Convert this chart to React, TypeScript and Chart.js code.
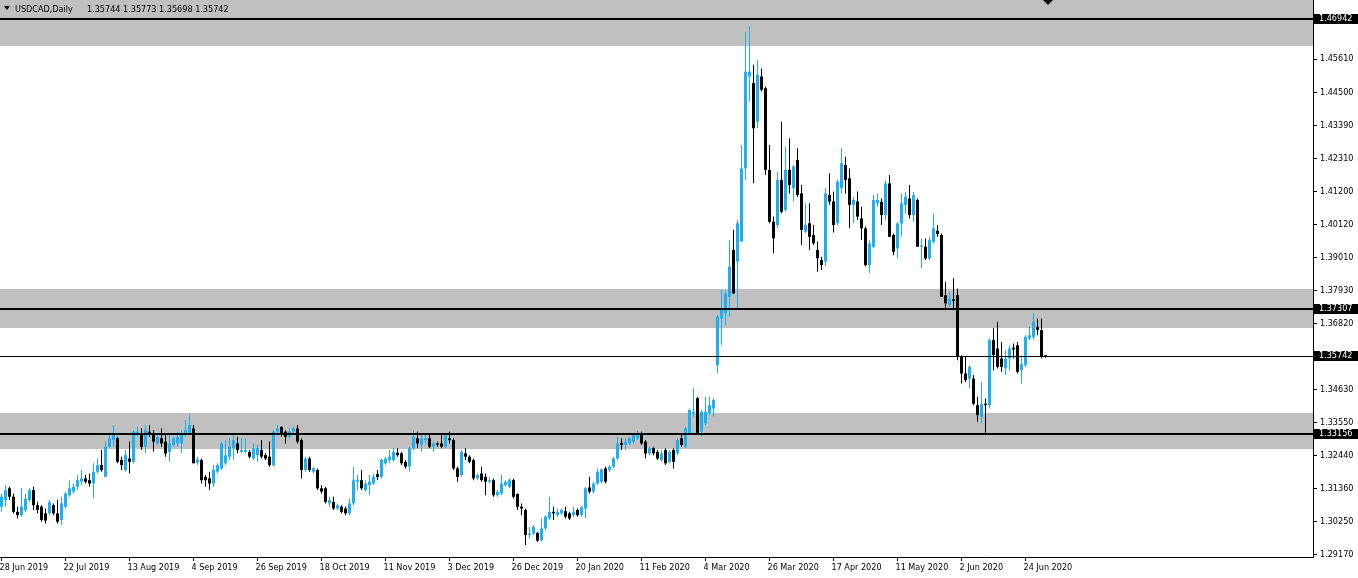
import React, { useEffect, useRef } from 'react';
import { Chart, registerables } from 'chart.js';

Chart.register(...registerables);

// ---------- data ----------
const symbolTitle = 'USDCAD,Daily';

const opens = [
  1.3075,1.3097,1.3136,1.3108,1.3058,1.3047,1.3064,1.3097,1.3130,1.3080,
  1.3075,1.3053,1.3053,1.3080,1.3053,1.3031,1.3075,1.3113,1.3125,1.3141,
  1.3158,1.3169,1.3163,1.3152,1.3191,1.3213,1.3174,1.3274,1.3296,1.3302,
  1.3230,1.3197,1.3235,1.3224,1.3313,1.3318,1.3274,1.3324,1.3318,1.3285,
  1.3302,1.3291,1.3257,1.3280,1.3285,1.3285,1.3313,1.3318,1.3335,1.3221,
  1.3230,1.3174,1.3169,1.3152,1.3191,1.3202,1.3219,1.3241,1.3269,1.3285,
  1.3257,1.3257,1.3257,1.3235,1.3246,1.3263,1.3246,1.3241,1.3213,1.3324,
  1.3340,1.3324,1.3307,1.3324,1.3335,1.3296,1.3197,1.3235,1.3191,1.3197,
  1.3136,1.3136,1.3086,1.3091,1.3069,1.3075,1.3069,1.3053,1.3086,1.3158,
  1.3163,1.3130,1.3147,1.3152,1.3183,1.3174,1.3219,1.3230,1.3230,1.3254,
  1.3252,1.3224,1.3208,1.3269,1.3302,1.3280,1.3296,1.3302,1.3274,1.3285,
  1.3285,1.3274,1.3302,1.3296,1.3202,1.3180,1.3252,1.3241,1.3230,1.3169,
  1.3185,1.3174,1.3158,1.3163,1.3113,1.3119,1.3147,1.3141,1.3163,1.3117,
  1.3075,1.3064,1.2981,1.2986,1.2988,1.2964,1.3003,1.3036,1.3058,1.3047,
  1.3053,1.3060,1.3053,1.3047,1.3064,1.3047,1.3069,1.3139,1.3125,1.3152,
  1.3158,1.3202,1.3197,1.3208,1.3235,1.3287,1.3280,1.3285,1.3291,1.3302,
  1.3318,1.3291,1.3252,1.3269,1.3257,1.3230,1.3263,1.3224,1.3263,1.3252,
  1.3302,1.3274,1.3318,1.3385,1.3435,1.3324,1.3352,1.3385,1.3401,1.3545,
  1.3700,1.3717,1.3772,1.3927,1.3888,1.3955,1.4198,1.4503,1.4481,1.4353,
  1.4503,1.4464,1.4193,1.4021,1.4010,1.4160,1.4060,1.4193,1.4132,1.4226,
  1.4115,1.3988,1.4016,1.3977,1.3927,1.3894,1.3888,1.4110,1.4088,1.4016,
  1.4132,1.4209,1.4165,1.4077,1.4088,1.4032,1.3999,1.3877,1.3938,1.4082,
  1.4087,1.4043,1.4148,1.3977,1.3932,1.4015,1.4076,1.4098,1.4043,1.4093,
  1.3938,1.3938,1.3899,1.3954,1.3991,1.3977,1.3777,1.3744,1.3763,1.3777,
  1.3572,1.3517,1.3500,1.3500,1.3412,1.3373,1.3417,1.3412,1.3628,1.3600,
  1.3567,1.3534,1.3567,1.3603,1.3611,1.3528,1.3545,1.3633,1.3639,1.3672,
  1.3661,1.35744,
];

const highs = [
  1.3119,1.3147,1.3141,1.3119,1.3075,1.3136,1.3119,1.3136,1.3141,1.3091,
  1.3080,1.3069,1.3097,1.3086,1.3097,1.3108,1.3125,1.3163,1.3152,1.3180,
  1.3197,1.3180,1.3185,1.3219,1.3235,1.3263,1.3291,1.3324,1.3346,1.3307,
  1.3241,1.3263,1.3291,1.3329,1.3340,1.3335,1.3346,1.3346,1.3329,1.3313,
  1.3335,1.3318,1.3313,1.3307,1.3324,1.3329,1.3363,1.3385,1.3346,1.3241,
  1.3235,1.3180,1.3191,1.3213,1.3219,1.3291,1.3296,1.3302,1.3313,1.3307,
  1.3302,1.3302,1.3263,1.3285,1.3280,1.3296,1.3252,1.3291,1.3329,1.3346,
  1.3342,1.3329,1.3335,1.3340,1.3346,1.3302,1.3241,1.3241,1.3208,1.3202,
  1.3147,1.3141,1.3108,1.3108,1.3086,1.3080,1.3075,1.3102,1.3208,1.3180,
  1.3197,1.3163,1.3180,1.3185,1.3197,1.3235,1.3241,1.3263,1.3269,1.3269,
  1.3257,1.3230,1.3274,1.3329,1.3324,1.3318,1.3318,1.3318,1.3291,1.3291,
  1.3313,1.3318,1.3324,1.3302,1.3208,1.3263,1.3269,1.3246,1.3235,1.3185,
  1.3208,1.3185,1.3174,1.3169,1.3130,1.3180,1.3163,1.3169,1.3169,1.3119,
  1.3086,1.3069,1.3008,1.3014,1.2992,1.3036,1.3047,1.3108,1.3075,1.3069,
  1.3069,1.3075,1.3058,1.3075,1.3069,1.3077,1.3141,1.3174,1.3158,1.3202,
  1.3202,1.3208,1.3213,1.3241,1.3307,1.3302,1.3302,1.3307,1.3318,1.3327,
  1.3324,1.3296,1.3274,1.3274,1.3263,1.3263,1.3269,1.3263,1.3269,1.3302,
  1.3313,1.3340,1.3401,1.3468,1.3440,1.3396,1.3440,1.3440,1.3435,1.3711,
  1.3794,1.3794,1.3960,1.3994,1.4027,1.4276,1.4652,1.4669,1.4542,1.4558,
  1.4530,1.4470,1.4276,1.4038,1.4187,1.4353,1.4270,1.4298,1.4209,1.4265,
  1.4143,1.4082,1.4082,1.4010,1.3955,1.3905,1.4132,1.4182,1.4121,1.4160,
  1.4265,1.4237,1.4198,1.4104,1.4121,1.4071,1.4005,1.3960,1.4110,1.4115,
  1.4098,1.4159,1.4176,1.3982,1.4021,1.4115,1.4120,1.4143,1.4120,1.4098,
  1.3965,1.3965,1.3971,1.4048,1.4010,1.3982,1.3822,1.3788,1.3833,1.3799,
  1.3578,1.3572,1.3545,1.3512,1.3440,1.3489,1.3434,1.3633,1.3667,1.3689,
  1.3622,1.3595,1.3611,1.3617,1.3622,1.3572,1.3644,1.3672,1.3716,1.3700,
  1.3700,1.35773,
];

const lows = [
  1.3058,1.3075,1.3097,1.3053,1.3036,1.3042,1.3058,1.3091,1.3064,1.3053,
  1.3025,1.3019,1.3047,1.3047,1.3019,1.3014,1.3069,1.3108,1.3119,1.3130,
  1.3147,1.3152,1.3141,1.3102,1.3185,1.3191,1.3174,1.3269,1.3274,1.3219,
  1.3197,1.3191,1.3185,1.3219,1.3307,1.3263,1.3252,1.3307,1.3257,1.3280,
  1.3274,1.3241,1.3224,1.3274,1.3274,1.3252,1.3307,1.3313,1.3219,1.3213,
  1.3152,1.3141,1.3130,1.3141,1.3185,1.3197,1.3213,1.3230,1.3230,1.3252,
  1.3252,1.3252,1.3235,1.3230,1.3224,1.3235,1.3230,1.3208,1.3208,1.3318,
  1.3307,1.3285,1.3302,1.3318,1.3285,1.3169,1.3191,1.3191,1.3185,1.3130,
  1.3119,1.3086,1.3075,1.3064,1.3064,1.3053,1.3047,1.3047,1.3080,1.3130,
  1.3130,1.3125,1.3113,1.3147,1.3163,1.3169,1.3213,1.3219,1.3224,1.3241,
  1.3213,1.3202,1.3191,1.3263,1.3269,1.3257,1.3285,1.3269,1.3257,1.3274,
  1.3269,1.3269,1.3285,1.3197,1.3158,1.3174,1.3230,1.3219,1.3163,1.3163,
  1.3158,1.3113,1.3152,1.3108,1.3108,1.3113,1.3141,1.3136,1.3102,1.3064,
  1.3047,1.2948,1.2970,1.2981,1.2959,1.2959,1.2997,1.3031,1.3031,1.3042,
  1.3047,1.3036,1.3031,1.3042,1.3042,1.3042,1.3036,1.3119,1.3119,1.3147,
  1.3152,1.3152,1.3191,1.3202,1.3230,1.3263,1.3263,1.3280,1.3285,1.3296,
  1.3280,1.3235,1.3246,1.3246,1.3230,1.3224,1.3213,1.3219,1.3202,1.3246,
  1.3274,1.3269,1.3313,1.3374,1.3313,1.3307,1.3346,1.3379,1.3374,1.3518,
  1.3612,1.3678,1.3706,1.3783,1.3728,1.3955,1.4160,1.4420,1.4149,1.4331,
  1.4453,1.4176,1.4016,1.3916,1.3999,1.4049,1.4054,1.4115,1.4088,1.4104,
  1.3944,1.3983,1.3927,1.3944,1.3855,1.3861,1.3872,1.4077,1.3985,1.4010,
  1.4115,1.4115,1.3999,1.4016,1.4027,1.3960,1.3872,1.3850,1.3933,1.4071,
  1.4010,1.4026,1.3971,1.3910,1.3899,1.3971,1.4048,1.4032,1.4021,1.3938,
  1.3866,1.3894,1.3894,1.3949,1.3971,1.3772,1.3727,1.3739,1.3727,1.3561,
  1.3484,1.3489,1.3467,1.3412,1.3357,1.3351,1.3318,1.3401,1.3528,1.3534,
  1.3523,1.3512,1.3528,1.3567,1.3517,1.3484,1.3539,1.3628,1.3628,1.3644,
  1.3567,1.35698,
];

const closes = [
  1.3108,1.3130,1.3108,1.3058,1.3047,1.3075,1.3102,1.3130,1.3080,1.3064,
  1.3031,1.3029,1.3091,1.3053,1.3025,1.3086,1.3119,1.3136,1.3141,1.3163,
  1.3169,1.3158,1.3152,1.3191,1.3213,1.3197,1.3274,1.3302,1.3318,1.3224,
  1.3213,1.3246,1.3224,1.3324,1.3324,1.3274,1.3329,1.3313,1.3291,1.3307,
  1.3285,1.3252,1.3285,1.3302,1.3307,1.3318,1.3329,1.3346,1.3219,1.3232,
  1.3163,1.3163,1.3152,1.3197,1.3213,1.3285,1.3246,1.3274,1.3296,1.3263,
  1.3263,1.3263,1.3241,1.3269,1.3269,1.3241,1.3235,1.3213,1.3324,1.3335,
  1.3313,1.3307,1.3324,1.3335,1.3291,1.3197,1.3235,1.3197,1.3202,1.3136,
  1.3125,1.3091,1.3097,1.3069,1.3080,1.3058,1.3053,1.3086,1.3163,1.3165,
  1.3136,1.3152,1.3158,1.3174,1.3174,1.3230,1.3235,1.3241,1.3257,1.3246,
  1.3219,1.3208,1.3269,1.3307,1.3285,1.3302,1.3302,1.3274,1.3285,1.3280,
  1.3274,1.3313,1.3296,1.3202,1.3174,1.3257,1.3241,1.3224,1.3169,1.3180,
  1.3163,1.3158,1.3163,1.3113,1.3125,1.3152,1.3158,1.3165,1.3108,1.3075,
  1.3069,1.2981,1.2986,1.3008,1.2962,1.3003,1.3042,1.3058,1.3053,1.3058,
  1.3064,1.3042,1.3036,1.3058,1.3047,1.3073,1.3136,1.3125,1.3152,1.3191,
  1.3199,1.3158,1.3208,1.3235,1.3285,1.3280,1.3291,1.3302,1.3313,1.3318,
  1.3285,1.3252,1.3269,1.3252,1.3235,1.3252,1.3219,1.3257,1.3224,1.3296,
  1.3280,1.3335,1.3396,1.3390,1.3318,1.3390,1.3390,1.3412,1.3429,1.3706,
  1.3728,1.3783,1.3872,1.3783,1.4016,1.4198,1.4519,1.4519,1.4331,1.4508,
  1.4459,1.4193,1.4021,1.3966,1.4160,1.4054,1.4193,1.4143,1.4204,1.4110,
  1.3994,1.4010,1.3971,1.3949,1.3900,1.3877,1.4115,1.4088,1.4010,1.4154,
  1.4215,1.4160,1.4077,1.4093,1.4038,1.3999,1.3877,1.3949,1.4093,1.4093,
  1.4043,1.4148,1.3971,1.3921,1.4015,1.4082,1.4104,1.4043,1.4109,1.3938,
  1.3943,1.3899,1.3960,1.3999,1.3980,1.3772,1.3750,1.3766,1.3758,1.3572,
  1.3517,1.3495,1.3539,1.3417,1.3379,1.3417,1.3412,1.3628,1.3578,1.3539,
  1.3539,1.3567,1.3600,1.3597,1.3523,1.3548,1.3639,1.3644,1.3689,1.3661,
  1.3572,1.35742,
];

const dateLabels = [
  '28 Jun 2019', '22 Jul 2019', '13 Aug 2019', '4 Sep 2019', '26 Sep 2019',
  '18 Oct 2019', '11 Nov 2019', '3 Dec 2019', '26 Dec 2019', '20 Jan 2020',
  '11 Feb 2020', '4 Mar 2020', '26 Mar 2020', '17 Apr 2020', '11 May 2020',
  '2 Jun 2020', '24 Jun 2020',
];
const barsPerLabel = 16;

const priceTicks = [
  1.4689, 1.4561, 1.4450, 1.4339, 1.4231, 1.4120, 1.4012, 1.3901,
  1.3793, 1.3682, 1.3463, 1.3355, 1.3244, 1.3136, 1.3025, 1.2917,
];

// support / resistance zones [low, high]
const zoneLows = [1.4604, 1.36676, 1.32663];
const zoneHighs = [1.4800, 1.37975, 1.33858];

// horizontal levels
const levelPrices = [1.46942, 1.37307, 1.33156];
const bidPrice = 1.35742;

// ---------- styles ----------
const BULL = 'rgb(28,176,240)';
const BEAR = '#000000';
const ZONE = '#C0C0C0';
const FONT_FAMILY = "'DejaVu Sans Condensed', 'Liberation Sans', Arial, sans-serif";
const Y_MIN = 1.2908;
const Y_MAX = 1.4757;
const X_MIN = -0.375;
const X_MAX = 327.875;

const n = Math.min(opens.length, highs.length, lows.length, closes.length);
const idx = Array.from({ length: n }, (_, i) => i);
const colors = idx.map((i) => (closes[i] >= opens[i] ? BULL : BEAR));

const overlayPlugin = {
  id: 'mt4Overlay',
  beforeDatasetsDraw(chart: any) {
    const { ctx, chartArea: a, scales } = chart;
    const y = scales.y;
    ctx.save();
    ctx.beginPath();
    ctx.rect(a.left, a.top, a.right - a.left, a.bottom - a.top);
    ctx.clip();
    ctx.fillStyle = ZONE;
    for (let k = 0; k < zoneLows.length; k++) {
      const y1 = Math.round(y.getPixelForValue(zoneHighs[k]));
      const y2 = Math.round(y.getPixelForValue(zoneLows[k]));
      ctx.fillRect(a.left, y1, a.right - a.left, y2 - y1);
    }
    ctx.restore();
  },
  afterDatasetsDraw(chart: any) {
    const { ctx, chartArea: a, scales } = chart;
    const y = scales.y;
    ctx.save();
    ctx.fillStyle = '#000';
    for (const p of levelPrices) {
      const yy = Math.round(y.getPixelForValue(p));
      ctx.fillRect(a.left, yy - 1, a.right - a.left, 2);
    }
    const yb = Math.round(y.getPixelForValue(bidPrice) - 0.5);
    ctx.fillRect(a.left, yb, a.right - a.left, 1);
    ctx.restore();
  },
  afterDraw(chart: any) {
    const { ctx, chartArea: a, scales } = chart;
    const y = scales.y;
    ctx.save();
    // price boxes on the right axis
    ctx.font = `9px ${FONT_FAMILY}`;
    ctx.textBaseline = 'middle';
    ctx.textAlign = 'left';
    for (const p of [...levelPrices, bidPrice]) {
      const yy = Math.round(y.getPixelForValue(p));
      ctx.fillStyle = '#000';
      ctx.fillRect(a.right + 1, yy - 5, chart.width - a.right - 1, 10);
      ctx.fillStyle = '#fff';
      ctx.fillText(p.toFixed(5), a.right + 6, yy);
    }
    // title
    ctx.fillStyle = '#000';
    ctx.beginPath();
    ctx.moveTo(4, 6);
    ctx.lineTo(10, 6);
    ctx.lineTo(7, 10);
    ctx.closePath();
    ctx.fill();
    ctx.font = `9px ${FONT_FAMILY}`;
    ctx.textBaseline = 'alphabetic';
    ctx.fillText(symbolTitle, 15, 11.5);
    const last = n - 1;
    const ohlc = [opens[last], highs[last], lows[last], closes[last]].map((v) => v.toFixed(5)).join(' ');
    ctx.fillText(ohlc, 87, 11.5);
    // chart shift marker
    ctx.beginPath();
    ctx.moveTo(1043, 0);
    ctx.lineTo(1053, 0);
    ctx.lineTo(1048, 5);
    ctx.closePath();
    ctx.fill();
    ctx.restore();
  },
};

export default function App() {
  const canvasRef = useRef<HTMLCanvasElement>(null);

  useEffect(() => {
    document.body.style.margin = '0';
    const canvas = canvasRef.current;
    if (!canvas) return;
    const font = { family: FONT_FAMILY, size: 9 };
    const chart = new Chart(canvas, {
      type: 'bar',
      data: {
        datasets: [
          {
            label: 'body',
            data: idx.map((i) => ({ x: i, y: [opens[i], closes[i]] })) as any,
            backgroundColor: colors,
            barThickness: 3,
            minBarLength: 1,
            grouped: false,
            borderWidth: 0,
            inflateAmount: 0,
          } as any,
          {
            label: 'wick',
            data: idx.map((i) => ({ x: i, y: [lows[i], highs[i]] })) as any,
            backgroundColor: colors,
            barThickness: 1,
            grouped: false,
            borderWidth: 0,
            inflateAmount: 0,
          } as any,
        ],
      },
      options: {
        animation: false,
        responsive: false,
        devicePixelRatio: 1,
        events: [],
        layout: { padding: 0, autoPadding: false } as any,
        plugins: {
          legend: { display: false },
          tooltip: { enabled: false },
          title: { display: false },
        },
        scales: {
          x: {
            type: 'linear',
            position: 'bottom',
            min: X_MIN,
            max: X_MAX,
            offset: false,
            afterBuildTicks: (s: any) => {
              s.ticks = dateLabels.map((_, k) => ({ value: k * barsPerLabel }));
            },
            afterFit: (s: any) => {
              s.height = 21;
              s.paddingLeft = 0;
              s.paddingRight = 0;
            },
            ticks: {
              autoSkip: false,
              maxRotation: 0,
              minRotation: 0,
              align: 'start',
              labelOffset: -2,
              padding: 1,
              color: '#000',
              font,
              callback: (v: any) => dateLabels[Math.round(Number(v) / barsPerLabel)] ?? '',
            },
            grid: { drawOnChartArea: false, drawTicks: true, tickLength: 4, color: '#000', offset: false },
            border: { color: '#000', width: 1 },
          } as any,
          y: {
            type: 'linear',
            position: 'right',
            min: Y_MIN,
            max: Y_MAX,
            afterBuildTicks: (s: any) => {
              s.ticks = priceTicks.map((v) => ({ value: v }));
            },
            afterFit: (s: any) => {
              s.width = 45;
              s.paddingTop = 0;
              s.paddingBottom = 0;
            },
            ticks: {
              autoSkip: false,
              padding: 3,
              color: '#000',
              font,
              callback: (v: any) => Number(v).toFixed(5),
            },
            grid: { drawOnChartArea: false, drawTicks: true, tickLength: 4, color: '#000' },
            border: { color: '#000', width: 1 },
          } as any,
        },
      },
      plugins: [overlayPlugin],
    });
    return () => chart.destroy();
  }, []);

  return (
    <div style={{ width: 1358, height: 578, background: '#fff' }}>
      <canvas ref={canvasRef} width={1358} height={578} style={{ display: 'block' }} />
    </div>
  );
}
